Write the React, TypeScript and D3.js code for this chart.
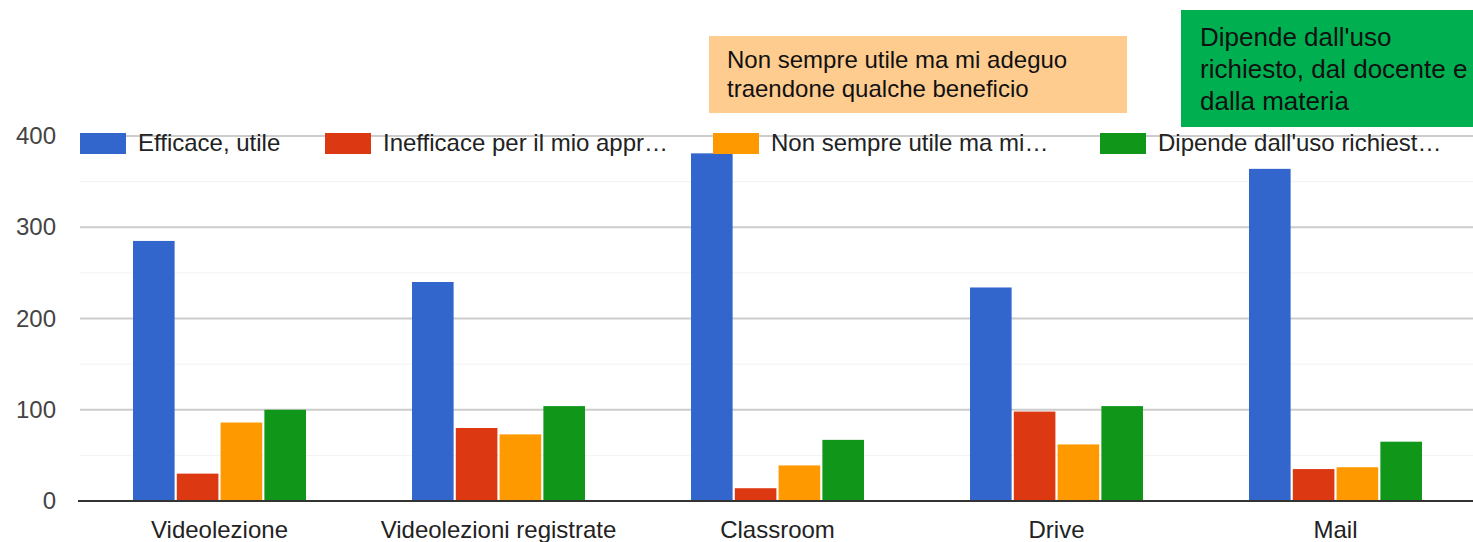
import React, { useRef, useEffect } from 'react';
import * as d3 from 'd3';

// Data
const categories = ['Videolezione', 'Videolezioni registrate', 'Classroom', 'Drive', 'Mail'];
const seriesNames = ['Efficace, utile', 'Inefficace per il mio appr…', 'Non sempre utile ma mi…', "Dipende dall'uso richiest…"];
const efficace = [285, 240, 381, 234, 364];
const inefficace = [30, 80, 14, 98, 35];
const nonSempre = [86, 73, 39, 62, 37];
const dipende = [100, 104, 67, 104, 65];
const yTicks = [0, 100, 200, 300, 400];
const minorTicks = [50, 150, 250, 350];
const orangeNote = ['Non sempre utile ma mi adeguo', 'traendone qualche beneficio'];
const greenNote = ["Dipende dall'uso", 'richiesto, dal docente e', 'dalla materia'];

const colors = ['#3366cc', '#dc3912', '#ff9900', '#109618'];

const App = () => {
  const svgRef = useRef<SVGSVGElement>(null);

  useEffect(() => {
    if (!svgRef.current) return;
    const svg = d3.select(svgRef.current);
    svg.selectAll('*').remove();

    const width = 1473;
    const height = 542;
    const font = 'Arial, "Liberation Sans", sans-serif';
    svg.attr('width', width).attr('height', height).style('background', '#fff');

    const series = [efficace, inefficace, nonSempre, dipende];

    const x0 = d3.scaleBand<string>()
      .domain(categories)
      .range([80, 1475])
      .paddingInner(0.38)
      .paddingOuter(0.19);

    const x1 = d3.scaleBand<number>()
      .domain(d3.range(series.length))
      .range([0, x0.bandwidth()])
      .paddingInner(0.05);

    const y = d3.scaleLinear().domain([0, 400]).range([501, 136]);

    // minor grid lines (very faint)
    svg.append('g')
      .selectAll('line')
      .data(minorTicks)
      .enter()
      .append('line')
      .attr('x1', 80)
      .attr('x2', width)
      .attr('y1', d => y(d))
      .attr('y2', d => y(d))
      .attr('stroke', '#f3f3f3')
      .attr('stroke-width', 1);

    // grid lines
    svg.append('g')
      .selectAll('line')
      .data(yTicks.filter(t => t !== 0))
      .enter()
      .append('line')
      .attr('x1', 80)
      .attr('x2', width)
      .attr('y1', d => y(d))
      .attr('y2', d => y(d))
      .attr('stroke', '#cccccc')
      .attr('stroke-width', 2);

    // y labels
    svg.append('g')
      .selectAll('text')
      .data(yTicks)
      .enter()
      .append('text')
      .attr('x', 56)
      .attr('y', d => y(d) + 8)
      .attr('text-anchor', 'end')
      .attr('font-family', font)
      .attr('font-size', 24)
      .attr('fill', '#444')
      .text(d => d);

    // bars
    const groups = svg.append('g')
      .selectAll('g')
      .data(categories)
      .enter()
      .append('g')
      .attr('transform', d => `translate(${x0(d)},0)`);

    groups.selectAll('rect')
      .data((_, i) => series.map((s, k) => ({ k, v: s[i] })))
      .enter()
      .append('rect')
      .attr('x', d => x1(d.k)!)
      .attr('y', d => y(d.v))
      .attr('width', x1.bandwidth())
      .attr('height', d => y(0) - y(d.v))
      .attr('fill', d => colors[d.k]);

    // baseline
    svg.append('line')
      .attr('x1', 78)
      .attr('x2', width)
      .attr('y1', y(0))
      .attr('y2', y(0))
      .attr('stroke', '#333')
      .attr('stroke-width', 2);

    // category labels
    svg.append('g')
      .selectAll('text')
      .data(categories)
      .enter()
      .append('text')
      .attr('x', d => x0(d)! + x0.bandwidth() / 2)
      .attr('y', 538)
      .attr('text-anchor', 'middle')
      .attr('font-family', font)
      .attr('font-size', 24)
      .attr('fill', '#222')
      .text(d => d);

    // legend
    const legendX = [80, 325, 713, 1100];
    const legend = svg.append('g')
      .selectAll('g')
      .data(seriesNames)
      .enter()
      .append('g')
      .attr('transform', (_, i) => `translate(${legendX[i]},133)`);
    legend.append('rect')
      .attr('width', 46)
      .attr('height', 21)
      .attr('fill', (_, i) => colors[i]);
    legend.append('text')
      .attr('x', 58)
      .attr('y', 18)
      .attr('font-family', font)
      .attr('font-size', 24)
      .attr('fill', '#222')
      .text(d => d);

    // annotation boxes
    const orange = svg.append('g').attr('transform', 'translate(709,36)');
    orange.append('rect').attr('width', 418).attr('height', 77).attr('fill', '#ffcc8f');
    orange.selectAll('text')
      .data(orangeNote)
      .enter()
      .append('text')
      .attr('x', 18)
      .attr('y', (_, i) => 32 + i * 29)
      .attr('font-family', font)
      .attr('font-size', 24)
      .attr('fill', '#111')
      .text(d => d);

    const green = svg.append('g').attr('transform', 'translate(1181,10)');
    green.append('rect').attr('width', 300).attr('height', 117).attr('fill', '#00b050');
    green.selectAll('text')
      .data(greenNote)
      .enter()
      .append('text')
      .attr('x', 19)
      .attr('y', (_, i) => 36 + i * 32)
      .attr('font-family', font)
      .attr('font-size', 26)
      .attr('fill', '#111')
      .text(d => d);
  }, []);

  return (
    <div style={{ position: 'absolute', left: 0, top: 0 }}>
      <svg ref={svgRef} style={{ display: 'block' }}></svg>
    </div>
  );
};

export default App;
